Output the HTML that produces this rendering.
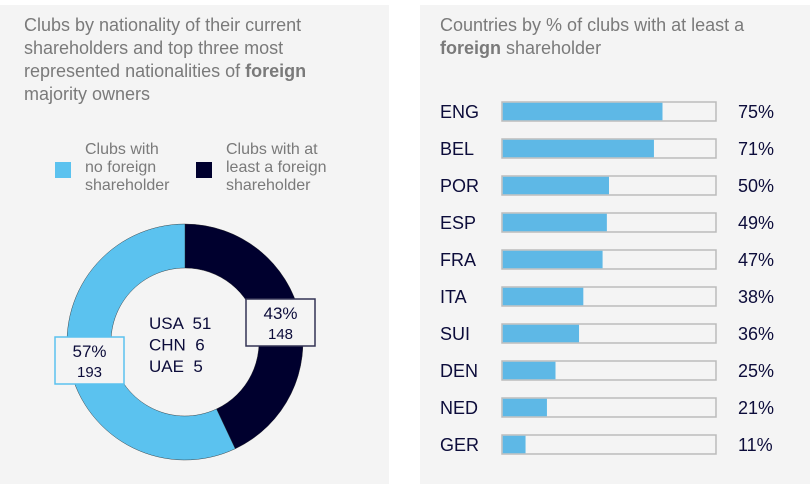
<!DOCTYPE html>
<html><head><meta charset="utf-8"><style>
body{margin:0;width:810px;height:494px;background:#fff;font-family:"Liberation Sans",sans-serif;position:relative;overflow:hidden}
.panel{position:absolute;background:#f4f4f4}
.t{position:absolute;color:#7a7a7a;font-size:18px;line-height:23px;white-space:nowrap}
</style></head><body>
<div class="panel" style="left:0;top:5px;width:389px;height:479px"></div>
<div class="panel" style="left:420px;top:5px;width:390px;height:479px"></div>
<div class="t" style="left:24px;top:14px">Clubs by nationality of their current<br>shareholders and top three most<br>represented nationalities of <b>foreign</b><br>majority owners</div>
<div class="t" style="left:440px;top:14px">Countries by % of clubs with at least a<br><b>foreign</b> shareholder</div>
<div>
<div style="position:absolute;left:55px;top:162px;width:16px;height:16px;background:#5bc2ef"></div>
<div class="t" style="left:85px;top:141px;font-size:16px;line-height:18px">Clubs with<br>no foreign<br>shareholder</div></div>
<div>
<div style="position:absolute;left:196px;top:162px;width:16px;height:16px;background:#00002e"></div>
<div class="t" style="left:226px;top:141px;font-size:16px;line-height:18px">Clubs with at<br>least a foreign<br>shareholder</div></div>
<svg id="chart" width="810" height="494" style="position:absolute;left:0;top:0"></svg>
<script>
const donutLabels=["foreign","no-foreign"];
const donutPct=[43,57];
const donutCounts=[148,193];
const donutColors=["#00002e","#5bc2ef"];
const topNations=["USA","CHN","UAE"];
const topCounts=[51,6,5];
const countries=["ENG","BEL","POR","ESP","FRA","ITA","SUI","DEN","NED","GER"];
const shares=[75,71,50,49,47,38,36,25,21,11];
const svg=document.getElementById('chart');
const NS="http://www.w3.org/2000/svg";
function mk(tag,attrs,parent){const e=document.createElementNS(NS,tag);for(const k in attrs)e.setAttribute(k,attrs[k]);(parent||svg).appendChild(e);return e;}
const cx=185,cy=342,R=118,r=74;
let start=0;const total=donutPct.reduce((a,b)=>a+b,0);
function pt(a,rad){return [cx+rad*Math.sin(a),cy-rad*Math.cos(a)];}
donutPct.forEach((v,i)=>{
 const a0=start/total*2*Math.PI,a1=(start+v)/total*2*Math.PI;start+=v;
 const large=(a1-a0)>Math.PI?1:0;
 const [x0,y0]=pt(a0,R),[x1,y1]=pt(a1,R),[x2,y2]=pt(a1,r),[x3,y3]=pt(a0,r);
 const p=mk('path',{d:`M${x0},${y0}A${R},${R} 0 ${large} 1 ${x1},${y1}L${x2},${y2}A${r},${r} 0 ${large} 0 ${x3},${y3}Z`,fill:donutColors[i],stroke:'#222','stroke-width':0.4});
 
 
});
const boxes=[{x:246,y:299,stroke:'#333355'},{x:55,y:337,stroke:'#5bc2ef'}];
donutPct.forEach((v,i)=>{
 const g=mk('g',{});
 
 
 const b=boxes[i];
 mk('rect',{x:b.x,y:b.y,width:69,height:47,fill:'#f4f4f4',stroke:b.stroke,'stroke-width':1.5},g);
 const t1=mk('text',{x:b.x+34.5,y:b.y+20,'text-anchor':'middle','font-size':17,fill:'#0c0c3a'},g);t1.textContent=v+'%';
 const t2=mk('text',{x:b.x+34.5,y:b.y+40,'text-anchor':'middle','font-size':15,fill:'#0c0c3a'},g);t2.textContent=donutCounts[i];
});
topNations.forEach((n,i)=>{
 const t=mk('text',{x:149,y:329+i*21.5,'font-size':17,fill:'#0c0c3a'});
 
 
 t.textContent=n+'  '+topCounts[i];
 t.style.whiteSpace='pre';
});
const bx=502,bw=214,bh=19,y0=102,step=37;
const xs=v=>v/100*bw;
countries.forEach((c,i)=>{
 const y=y0+i*step;
 const g=mk('g',{});
 
 
 mk('rect',{x:bx,y:y,width:bw,height:bh,fill:'#f4f4f4',stroke:'#bbb','stroke-width':1.5},g);
 mk('rect',{x:bx+0.75,y:y+0.75,width:xs(shares[i])-0.75,height:bh-1.5,fill:'#5eb8e6'},g);
 const l=mk('text',{x:440,y:y+16,'font-size':18,fill:'#0c0c3a'},g);l.textContent=c;
 const v=mk('text',{x:738,y:y+16,'font-size':18,fill:'#0c0c3a'},g);v.textContent=shares[i]+'%';
});
</script>
</body></html>
